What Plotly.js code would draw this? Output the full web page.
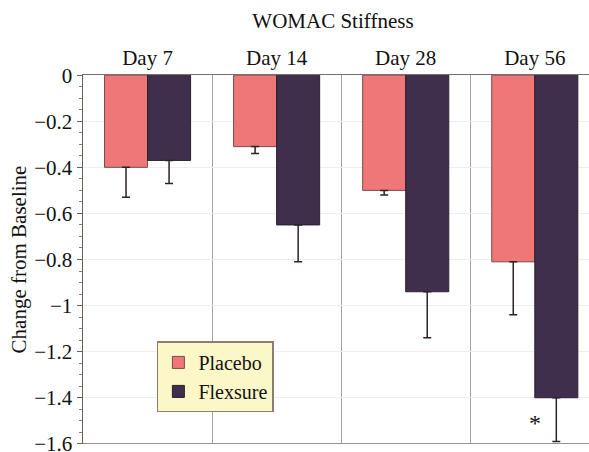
<!DOCTYPE html>
<html><head><meta charset="utf-8">
<script src="https://cdn.plot.ly/plotly-3.0.1.min.js"></script>
<style>html,body{margin:0;padding:0;background:#fff}</style>
</head><body><div id="chart" style="width:589px;height:452px"></div>
<script>
var days = ["Day 7", "Day 14", "Day 28", "Day 56"];
var placebo = [-0.40, -0.31, -0.50, -0.81];
var placeboErr = [0.13, 0.03, 0.02, 0.23];
var flexsure = [-0.37, -0.65, -0.94, -1.40];
var flexsureErr = [0.10, 0.16, 0.20, 0.19];
var yTicks = [0, -0.2, -0.4, -0.6, -0.8, -1, -1.2, -1.4, -1.6];
var yTickText = ["0", "\u22120.2", "\u22120.4", "\u22120.6", "\u22120.8", "\u22121", "\u22121.2", "\u22121.4", "\u22121.6"];

var font = "Liberation Serif, Times New Roman, serif";
function errCfg(v){return {type:"data", symmetric:false, array:v.map(function(){return 0;}), arrayminus:v, color:"#2b2326", thickness:1.5, width:4};}
var traces = [
 {type:"bar", name:"Placebo", x:days, y:placebo, error_y:errCfg(placeboErr),
  marker:{color:"#f07777", line:{color:"#7a4b4b", width:1}}},
 {type:"bar", name:"Flexsure", x:days, y:flexsure, error_y:errCfg(flexsureErr),
  marker:{color:"#3f2f4c", line:{color:"#2a2030", width:1}}}
];
var layout = {
 width:589, height:452,
 margin:{l:83, r:0, t:75, b:8},
 paper_bgcolor:"#fff", plot_bgcolor:"#fff",
 barmode:"group", bargap:0.333, bargroupgap:0,
 font:{family:font, color:"#111", size:21},
 title:{text:"WOMAC Stiffness", x:0.494, xanchor:"center", xref:"paper", y:0.955, yanchor:"middle", font:{family:font, size:21, color:"#111"}},
 xaxis:{side:"top", type:"category", range:[-0.5, 3.42], tickson:"boundaries", showgrid:true, gridcolor:"#aaa29e", gridwidth:1,
  ticks:"", showline:true, linecolor:"#7a6e6a", linewidth:1.5, tickfont:{family:font, size:21, color:"#111"}, zeroline:false},
 yaxis:{range:[-1.6008, 0.0008], tickvals:yTicks, ticktext:yTickText, ticklabeloverflow:"allow",
  showgrid:true, gridcolor:"#f3ece8", gridwidth:1, zeroline:false,
  showline:true, linecolor:"#6a5e5a", linewidth:1.5, ticks:"outside", ticklen:5, tickcolor:"#6a5e5a",
  minor:{dtick:0.05, ticks:"outside", ticklen:3, tickcolor:"#8a7e7a", showgrid:false},
  tickfont:{family:font, size:21, color:"#111"},
  title:{text:"Change from Baseline", standoff:2, font:{family:font, size:21, color:"#111"}}},
 showlegend:true,
 legend:{x:0.146, y:0.278, xanchor:"left", yanchor:"top", bgcolor:"#fbf7c8", bordercolor:"#8a7e6e", borderwidth:1.5,
  font:{family:font, size:20, color:"#111"}, itemwidth:30, tracegroupgap:0},
 shapes:[{type:"line", xref:"paper", yref:"y", x0:0, x1:1, y0:-1.6, y1:-1.6, line:{color:"#9a918d", width:1.5}}],
 annotations:[{x:"Day 56", y:-1.51, xref:"x", yref:"y", text:"*", showarrow:false, xanchor:"center", font:{family:font, size:24, color:"#111"}}]
};
Plotly.newPlot("chart", traces, layout, {displayModeBar:false, staticPlot:true});
</script></body></html>
